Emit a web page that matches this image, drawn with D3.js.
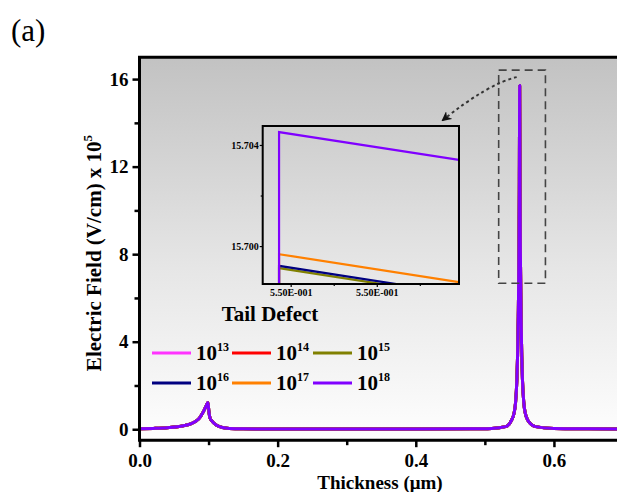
<!DOCTYPE html>
<html>
<head>
<meta charset="utf-8">
<script src="https://cdn.jsdelivr.net/npm/d3@7"></script>
<style>
  html, body { margin: 0; padding: 0; background: #ffffff; }
  svg { display: block; }
  text { font-family: "Liberation Serif", "Times New Roman", serif; }
</style>
</head>
<body>
<svg id="chart" width="617" height="492"></svg>
<script>
// Doping concentrations (exponent of 10) and their line colours
const dopingExp = [13, 14, 15, 16, 17, 18];
const seriesColors = ["#ff33ff", "#ff0000", "#808000", "#000080", "#ff8000", "#8000ff"];

// Shared field profile across the device thickness (µm, ×10^5 V/cm)
const thickness = [0.000, 0.020, 0.040, 0.055, 0.065, 0.075, 0.082, 0.087, 0.091, 0.094, 0.097, 0.099,
                   0.1005, 0.102, 0.105, 0.110, 0.115, 0.120, 0.130, 0.150, 0.200, 0.300, 0.400, 0.480,
                   0.510, 0.530, 0.5384, 0.5424, 0.5444, 0.5464, 0.5474, 0.5484, 0.5494, 0.5499,
                   0.5509, 0.5514, 0.5524, 0.5534, 0.5544, 0.5564, 0.5584, 0.5624, 0.5734, 0.600,
                   0.650, 0.700];
const field = [0.02, 0.04, 0.07, 0.11, 0.17, 0.26, 0.38, 0.52, 0.72, 0.90, 1.10, 1.22,
               0.80, 0.52, 0.37, 0.22, 0.13, 0.08, 0.04, 0.02, 0.01, 0.01, 0.01, 0.02,
               0.04, 0.12, 0.40, 0.75, 1.20, 2.30, 3.39, 5.16, 8.23, 11.0,
               11.0, 8.23, 5.16, 3.39, 2.30, 1.20, 0.75, 0.40, 0.12, 0.04,
               0.02, 0.01];

// Tail-defect peak: position and per-series field at the peak and at the inset's right edge
const peakThickness = 0.5504;
const peakField = [15.69830, 15.69840, 15.69913, 15.69922, 15.69968, 15.70451];
const tailField = [15.69720, 15.69730, 15.69802, 15.69811, 15.69857, 15.70341];
const insetThickness = [0.55039973, 0.55040391];
const insetFloor = 15.690;

// Tick values
const xTicks = [0.0, 0.2, 0.4, 0.6];
const xMinor = [0.1, 0.3, 0.5, 0.7];
const yTicks = [0, 4, 8, 12, 16];
const yMinor = [2, 6, 10, 14];
const insetXTicks = [0.5504000, 0.5504020];
const insetXMinor = [0.5504010, 0.5504030];
const insetYTicks = [15.700, 15.704];
const insetYMinor = [15.702];

const svg = d3.select("#chart");
const serif = '"Liberation Serif", "Times New Roman", serif';

// ---- main plot area ----
const plot = { left: 139.5, top: 57.2, bottom: 440.2, right: 623 };
const x = d3.scaleLinear().domain([0, 0.7]).range([plot.left, plot.right]);
const y = d3.scaleLinear().domain([-0.5, 17.0]).range([plot.bottom, plot.top]);

const defs = svg.append("defs");
const grad = defs.append("linearGradient").attr("id", "bg")
  .attr("x1", 0).attr("y1", 0).attr("x2", 0).attr("y2", 1);
grad.append("stop").attr("offset", "0%").attr("stop-color", "#c2c2c2");
grad.append("stop").attr("offset", "55%").attr("stop-color", "#e6e6e6");
grad.append("stop").attr("offset", "100%").attr("stop-color", "#fefefe");

defs.append("clipPath").attr("id", "plotClip").append("rect")
  .attr("x", plot.left).attr("y", plot.top)
  .attr("width", plot.right - plot.left).attr("height", plot.bottom - plot.top);

svg.append("rect")
  .attr("x", plot.left).attr("y", plot.top)
  .attr("width", plot.right - plot.left).attr("height", plot.bottom - plot.top)
  .attr("fill", "url(#bg)");

// Main curves: each series shares the profile with its own peak value
const line = d3.line().x(d => x(d[0])).y(d => y(d[1])).curve(d3.curveMonotoneX);
const seriesData = dopingExp.map((e, i) => {
  const pts = thickness.map((t, j) => [t, field[j]]);
  pts.push([peakThickness, peakField[i]]);
  pts.sort((a, b) => a[0] - b[0]);
  return pts;
});
const curves = svg.append("g").attr("clip-path", "url(#plotClip)");
seriesData.forEach((pts, i) => {
  curves.append("path").datum(pts)
    .attr("d", line)
    .attr("fill", "none")
    .attr("stroke", seriesColors[i])
    .attr("stroke-width", 3)
    .attr("stroke-linejoin", "round");
});

// Frame
svg.append("path")
  .attr("d", `M${plot.right},${plot.top}H${plot.left}V${plot.bottom}H${plot.right}`)
  .attr("fill", "none").attr("stroke", "#000").attr("stroke-width", 3);

// Axes
function styleAxis(g, fontSize) {
  g.select(".domain").remove();
  g.selectAll(".tick line").attr("stroke", "#000").attr("stroke-width", 2.5);
  g.selectAll(".tick text").attr("font-family", serif).attr("font-weight", "bold")
    .attr("font-size", fontSize).attr("fill", "#000");
}
const xAxis = svg.append("g").attr("transform", `translate(0,${plot.bottom})`)
  .call(d3.axisBottom(x).tickValues(xTicks).tickFormat(d3.format(".1f")).tickSize(7).tickPadding(6));
styleAxis(xAxis, 19);
const xAxisMinor = svg.append("g").attr("transform", `translate(0,${plot.bottom})`)
  .call(d3.axisBottom(x).tickValues(xMinor).tickFormat("").tickSize(5));
styleAxis(xAxisMinor, 19);

const yAxis = svg.append("g").attr("transform", `translate(${plot.left},0)`)
  .call(d3.axisLeft(y).tickValues(yTicks).tickFormat(d3.format("d")).tickSize(7).tickPadding(4));
styleAxis(yAxis, 19);
const yAxisMinor = svg.append("g").attr("transform", `translate(${plot.left},0)`)
  .call(d3.axisLeft(y).tickValues(yMinor).tickFormat("").tickSize(5));
styleAxis(yAxisMinor, 19);

// Axis titles
svg.append("text")
  .attr("x", 380).attr("y", 489)
  .attr("text-anchor", "middle").attr("font-weight", "bold").attr("font-size", 19)
  .text("Thickness (\u03bcm)");

const yTitle = svg.append("text")
  .attr("transform", `translate(101,253) rotate(-90)`)
  .attr("text-anchor", "middle").attr("font-weight", "bold").attr("font-size", 21);
yTitle.append("tspan").text("Electric Field (V/cm) x 10");
yTitle.append("tspan").attr("dy", -9).attr("font-size", 13).text("5");

// Panel tag
svg.append("text").attr("x", 11).attr("y", 41)
  .attr("font-size", 31).attr("fill", "#000").text("(a)");

// Dashed box around the tail-defect peak
const box = { x0: 0.520, x1: 0.5877, y0: 6.67, y1: 16.41 };
svg.append("rect")
  .attr("x", x(box.x0)).attr("y", y(box.y1))
  .attr("width", x(box.x1) - x(box.x0)).attr("height", y(box.y0) - y(box.y1))
  .attr("fill", "none").attr("stroke", "#444").attr("stroke-width", 1.6)
  .attr("stroke-dasharray", "8,5");

// ---- inset ----
const inset = { left: 262.7, right: 459, top: 126, bottom: 284 };
const ix = d3.scaleLinear().domain([0.55039935, 0.55040391]).range([inset.left, inset.right]);
const iy = d3.scaleLinear().domain([15.69850, 15.70475]).range([inset.bottom, inset.top]);

defs.append("clipPath").attr("id", "insetClip").append("rect")
  .attr("x", inset.left).attr("y", inset.top)
  .attr("width", inset.right - inset.left).attr("height", inset.bottom - inset.top);

const insetLine = d3.line().x(d => ix(d[0])).y(d => iy(d[1]));
const insetCurves = svg.append("g").attr("clip-path", "url(#insetClip)");
dopingExp.forEach((e, i) => {
  const pts = [[insetThickness[0], insetFloor], [insetThickness[0], peakField[i]], [insetThickness[1], tailField[i]]];
  insetCurves.append("path").datum(pts)
    .attr("d", insetLine)
    .attr("fill", "none").attr("stroke", seriesColors[i]).attr("stroke-width", 2.2);
});

svg.append("rect")
  .attr("x", inset.left).attr("y", inset.top)
  .attr("width", inset.right - inset.left).attr("height", inset.bottom - inset.top)
  .attr("fill", "none").attr("stroke", "#000").attr("stroke-width", 2);

const sciFmt = v => {
  const [m, e] = v.toExponential(2).split("e");
  const n = parseInt(e, 10);
  return m + "E" + (n < 0 ? "-" : "+") + String(Math.abs(n)).padStart(3, "0");
};
const ixAxis = svg.append("g").attr("transform", `translate(0,${inset.bottom})`)
  .call(d3.axisBottom(ix).tickValues(insetXTicks).tickFormat(sciFmt).tickSize(3).tickPadding(2));
styleAxis(ixAxis, 10);
ixAxis.selectAll(".tick line").attr("stroke-width", 1.2);
const ixAxisMinor = svg.append("g").attr("transform", `translate(0,${inset.bottom})`)
  .call(d3.axisBottom(ix).tickValues(insetXMinor).tickFormat("").tickSize(2));
styleAxis(ixAxisMinor, 10);
ixAxisMinor.selectAll(".tick line").attr("stroke-width", 1.2);

const iyAxis = svg.append("g").attr("transform", `translate(${inset.left},0)`)
  .call(d3.axisLeft(iy).tickValues(insetYTicks).tickFormat(d3.format(".3f")).tickSize(3).tickPadding(1));
styleAxis(iyAxis, 10);
iyAxis.selectAll(".tick line").attr("stroke-width", 1.2);
const iyAxisMinor = svg.append("g").attr("transform", `translate(${inset.left},0)`)
  .call(d3.axisLeft(iy).tickValues(insetYMinor).tickFormat("").tickSize(2));
styleAxis(iyAxisMinor, 10);
iyAxisMinor.selectAll(".tick line").attr("stroke-width", 1.2);

svg.append("text")
  .attr("x", 270).attr("y", 321)
  .attr("text-anchor", "middle").attr("font-weight", "bold").attr("font-size", 21)
  .text("Tail Defect");

// Dotted arrow from the dashed box to the inset
defs.append("marker").attr("id", "arrowHead")
  .attr("viewBox", "0 0 10 10").attr("refX", 8).attr("refY", 5)
  .attr("markerWidth", 5).attr("markerHeight", 5).attr("orient", "auto")
  .attr("markerUnits", "strokeWidth")
  .append("path").attr("d", "M0,0L10,5L0,10L3,5Z").attr("fill", "#111");
const a0 = [x(box.x0) + 18, y(box.y1) + 7];
const a1 = [inset.right - 16, inset.top - 6];
svg.append("path")
  .attr("d", `M${a0[0]},${a0[1]}Q${a0[0] - 29},${a0[1] + 7} ${a1[0]},${a1[1]}`)
  .attr("fill", "none").attr("stroke", "#333").attr("stroke-width", 2)
  .attr("stroke-dasharray", "3,3").attr("marker-end", "url(#arrowHead)");

// ---- legend ----
const legendCols = [152, 232, 313];
const legendRows = [353, 383];
const legend = svg.append("g");
dopingExp.forEach((e, i) => {
  const cx = legendCols[i % 3], cy = legendRows[Math.floor(i / 3)];
  legend.append("line")
    .attr("x1", cx).attr("x2", cx + 39).attr("y1", cy).attr("y2", cy)
    .attr("stroke", seriesColors[i]).attr("stroke-width", 3);
  const t = legend.append("text").attr("x", cx + 44).attr("y", cy + 7)
    .attr("font-weight", "bold").attr("font-size", 21);
  t.append("tspan").text("10");
  t.append("tspan").attr("dy", -9).attr("font-size", 12).text(e);
});
</script>
</body>
</html>
